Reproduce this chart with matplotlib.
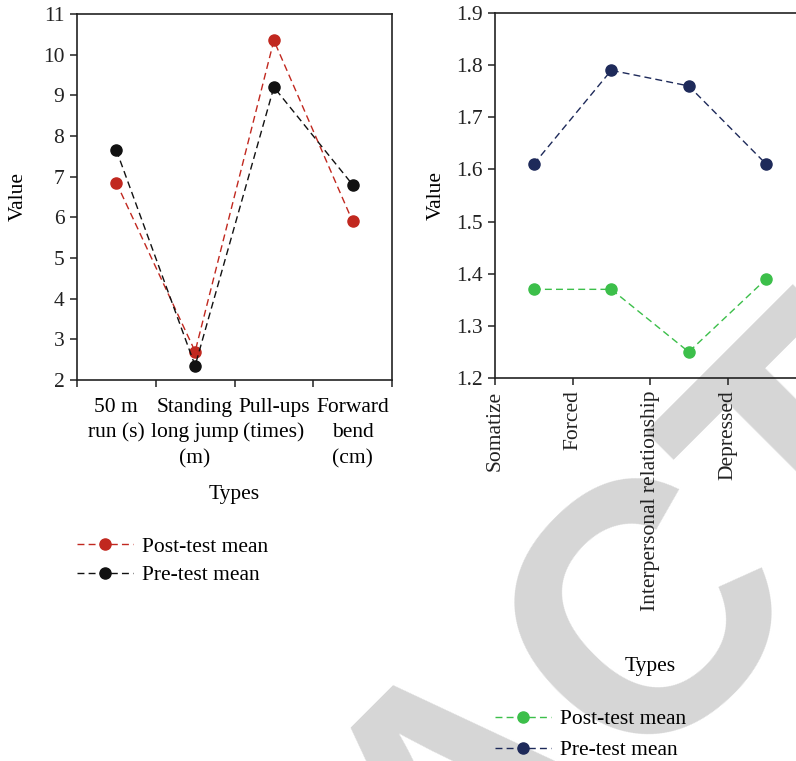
import numpy as np
import matplotlib.pyplot as plt

plt.rcParams['font.family'] = ['Liberation Serif', 'DejaVu Serif']

# left panel: physical fitness
fit_types = ['50 m\nrun (s)', 'Standing\nlong jump\n(m)', 'Pull-ups\n(times)', 'Forward\nbend\n(cm)']
fit_post = [6.85, 2.70, 10.35, 5.90]
fit_pre = [7.65, 2.35, 9.20, 6.80]

# right panel: mental health
mh_types = ['Somatize', 'Forced', 'Interpersonal relationship', 'Depressed']
mh_post = [1.37, 1.37, 1.25, 1.39]
mh_pre = [1.61, 1.79, 1.76, 1.61]

fs = 15.5

fig = plt.figure(figsize=(7.96, 7.61), dpi=100)

# watermark behind everything
fig.text(0.595, -0.047, 'RETRACTED', fontsize=255, color='#d6d6d6', rotation=45,
         ha='center', va='center', family='Liberation Sans', fontweight='bold', zorder=-5)

ax1 = fig.add_axes([0.0967, 0.5007, 0.3958, 0.4809])
ax2 = fig.add_axes([0.6219, 0.5033, 0.3894, 0.4797])

for ax in (ax1, ax2):
    ax.patch.set_alpha(0)
    for s in ax.spines.values():
        s.set_linewidth(1.2)
        s.set_color('#222222')
    ax.tick_params(direction='out', length=5, width=1.1, labelsize=fs, colors='#222222', pad=4)

x = np.arange(4) + 0.5
dash = (5, 3)

# left
ax1.plot(x, fit_post, color='#c1281f', lw=1, dashes=dash, marker='o', ms=8, label='Post-test mean')
ax1.plot(x, fit_pre, color='#111111', lw=1, dashes=dash, marker='o', ms=8, label='Pre-test mean')
ax1.set_xlim(0, 4)
ax1.set_ylim(2, 11)
ax1.set_yticks(range(2, 12))
ax1.set_xticks(range(5))
ax1.set_xticklabels([])
ax1.set_xticks(x, minor=True)
ax1.set_xticklabels(fit_types, minor=True, fontsize=fs, linespacing=1.45, va='top')
ax1.tick_params(axis='x', which='minor', length=0, pad=13)
ax1.set_ylabel('Value', fontsize=fs, labelpad=11)
ax1.set_xlabel('Types', fontsize=fs, labelpad=12)
fig.legend(*ax1.get_legend_handles_labels(), loc='upper left', bbox_to_anchor=(0.0967, 0.295),
           frameon=False, fontsize=fs, handlelength=2.6, handletextpad=0.4, labelspacing=0.4,
           borderpad=0, borderaxespad=0)

# right
ax2.plot(x, mh_post, color='#3cbf4a', lw=1, dashes=dash, marker='o', ms=8, label='Post-test mean')
ax2.plot(x, mh_pre, color='#1e2a5a', lw=1, dashes=dash, marker='o', ms=8, label='Pre-test mean')
ax2.set_xlim(0, 4)
ax2.set_ylim(1.2, 1.9)
ax2.set_yticks(np.round(np.arange(1.2, 1.91, 0.1), 1))
ax2.set_xticks(range(4))
ax2.set_xticklabels(mh_types, rotation=90, fontsize=fs)
ax2.set_ylabel('Value', fontsize=fs, labelpad=7)
ax2.set_xlabel('Types', fontsize=fs, labelpad=33)
fig.legend(*ax2.get_legend_handles_labels(), loc='upper left', bbox_to_anchor=(0.622, 0.068),
           frameon=False, fontsize=fs, handlelength=2.6, handletextpad=0.4, labelspacing=0.5,
           borderpad=0, borderaxespad=0)

fig.savefig('out.png', dpi=100)
